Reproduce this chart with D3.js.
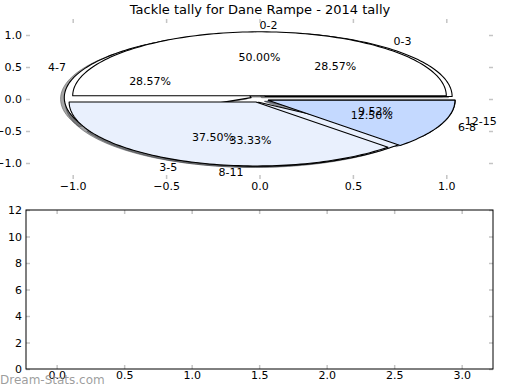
<!DOCTYPE html>
<html>
<head>
<meta charset="utf-8">
<script src="https://cdn.jsdelivr.net/npm/d3@7"></script>
<style>
  body { margin: 0; background: #fff; }
  text { font-family: "DejaVu Sans", sans-serif; }
</style>
</head>
<body>
<script>
// tally bins and counts (two pies drawn into the same axes)
let binsA = ["0-2", "3-5", "6-8"];
let tallyA = [4, 3, 1];
let binsB = ["0-3", "4-7", "8-11", "12-15"];
let tallyB = [6, 6, 7, 2];
let coloursA = ["#ffffff", "#e9f0fd", "#c4d9ff"];
let coloursB = ["#ffffff", "#ffffff", "#e9f0fd", "#c4d9ff"];

let pieTicks = [-1.0, -0.5, 0.0, 0.5, 1.0];
let barXTicks = [0.0, 0.5, 1.0, 1.5, 2.0, 2.5, 3.0];
let barYTicks = [0, 2, 4, 6, 8, 10, 12];

let width = 520;
let height = 390;
let explode = 0.05;
let tickGrey = "#c4c4c4";

let svg = d3.select("body").append("svg")
    .attr("width", width)
    .attr("height", height);

// top axes: pie
let x = d3.scaleLinear().domain([-1.25, 1.25]).range([26, 493]);
let y = d3.scaleLinear().domain([-1.25, 1.25]).range([179, 19]);

// bottom axes: empty bar area
let bx = d3.scaleLinear().domain([-0.227, 3.232]).range([26, 493]);
let by = d3.scaleLinear().domain([0, 12]).range([369, 210]);

svg.append("text")
    .attr("x", 260).attr("y", 14)
    .attr("text-anchor", "middle")
    .style("font-size", "13px")
    .text("Tackle tally for Dane Rampe - 2014 tally");

function wedgePoints(d, dx, dy) {
  // wedge in data coords, angles counter-clockwise from +x like matplotlib
  let mid = (d.startAngle + d.endAngle) / 2;
  let cx = explode * Math.cos(mid) + dx;
  let cy = explode * Math.sin(mid) + dy;
  let n = Math.ceil((d.endAngle - d.startAngle) / (2 * Math.PI) * 240) + 1;
  let pts = [[cx, cy]];
  for (let i = 0; i <= n; i++) {
    let t = d.startAngle + (d.endAngle - d.startAngle) * i / n;
    pts.push([cx + Math.cos(t), cy + Math.sin(t)]);
  }
  return pts;
}

let line = d3.line().x(p => x(p[0])).y(p => y(p[1]));
let pie = d3.pie().sort(null).startAngle(0).endAngle(2 * Math.PI);

let arcsB = pie(tallyB).map((d, i) => ({...d, label: binsB[i], colour: coloursB[i], total: d3.sum(tallyB)}));
let arcsA = pie(tallyA).map((d, i) => ({...d, label: binsA[i], colour: coloursA[i], total: d3.sum(tallyA)}));
let allArcs = arcsB.concat(arcsA);

function shade(colour) {
  let c = d3.rgb(colour);
  return d3.rgb(c.r * 0.3, c.g * 0.3, c.b * 0.3);
}

// shadows sit below every wedge
svg.append("g").attr("class", "shadows")
  .selectAll("path")
  .data(allArcs)
  .enter().append("path")
    .attr("d", d => line(wedgePoints(d, -0.02, -0.02)) + "Z")
    .attr("fill", d => shade(d.colour))
    .attr("stroke", d => shade(d.colour))
    .attr("fill-opacity", 0.5)
    .attr("stroke-opacity", 0.5);

svg.append("g").attr("class", "wedges")
  .selectAll("path")
  .data(allArcs)
  .enter().append("path")
    .attr("d", d => line(wedgePoints(d, 0, 0)) + "Z")
    .attr("fill", d => d.colour)
    .attr("stroke", "#000")
    .attr("stroke-width", 1.1)
    .attr("stroke-linejoin", "round");

let labels = svg.append("g").attr("class", "pie-labels")
    .style("font-size", "11px");

allArcs.forEach(function(d) {
  let mid = (d.startAngle + d.endAngle) / 2;
  let c = Math.cos(mid), s = Math.sin(mid);
  labels.append("text")
      .attr("x", x((1.1 + explode) * c))
      .attr("y", y((1.1 + explode) * s))
      .attr("dy", "0.35em")
      .attr("text-anchor", c > 0 ? "start" : "end")
      .text(d.label);
  labels.append("text")
      .attr("x", x((0.6 + explode) * c))
      .attr("y", y((0.6 + explode) * s))
      .attr("dy", "0.35em")
      .attr("text-anchor", "middle")
      .text(d3.format(".2f")(d.value / d.total * 100) + "%");
});

function styleAxis(g) {
  g.select(".domain").remove();
  g.selectAll(".tick line").attr("stroke", tickGrey).attr("stroke-width", 1.5);
  g.selectAll(".tick text").style("font-size", "11px").attr("font-family", "DejaVu Sans");
}

let fmt1 = d => d3.format(".1f")(d).replace("-", "\u2212");

// pie axes ticks (no spines)
svg.append("g").attr("transform", "translate(0,179)")
    .call(d3.axisBottom(x).tickValues(pieTicks).tickSize(-4).tickPadding(3).tickFormat(fmt1))
    .call(styleAxis);
svg.append("g").attr("transform", "translate(0,19)")
    .call(d3.axisTop(x).tickValues(pieTicks).tickSize(-4).tickFormat(""))
    .call(styleAxis);
svg.append("g").attr("transform", "translate(26,0)")
    .call(d3.axisLeft(y).tickValues(pieTicks).tickSize(-4).tickPadding(4).tickFormat(fmt1))
    .call(styleAxis);
svg.append("g").attr("transform", "translate(493,0)")
    .call(d3.axisRight(y).tickValues(pieTicks).tickSize(-4).tickFormat(""))
    .call(styleAxis);

// bar axes
svg.append("g").attr("transform", "translate(0,369)")
    .call(d3.axisBottom(bx).tickValues(barXTicks).tickSize(-4).tickPadding(2.5).tickFormat(fmt1))
    .call(styleAxis);
svg.append("g").attr("transform", "translate(0,210)")
    .call(d3.axisTop(bx).tickValues(barXTicks).tickSize(-4).tickFormat(""))
    .call(styleAxis);
svg.append("g").attr("transform", "translate(26,0)")
    .call(d3.axisLeft(by).tickValues(barYTicks).tickSize(-4).tickPadding(4).tickFormat(d3.format("d")))
    .call(styleAxis);
svg.append("g").attr("transform", "translate(493,0)")
    .call(d3.axisRight(by).tickValues(barYTicks).tickSize(-4).tickFormat(""))
    .call(styleAxis);

svg.append("rect")
    .attr("x", bx.range()[0]).attr("y", by.range()[1])
    .attr("width", bx.range()[1] - bx.range()[0])
    .attr("height", by.range()[0] - by.range()[1])
    .attr("fill", "none")
    .attr("stroke", "#000")
    .attr("stroke-width", 1);

// watermark
svg.append("text")
    .attr("x", 0).attr("y", 384)
    .style("font-size", "12px")
    .attr("fill", "#8c8c8c")
    .attr("fill-opacity", 0.85)
    .text("Dream-Stats.com");
</script>
</body>
</html>
